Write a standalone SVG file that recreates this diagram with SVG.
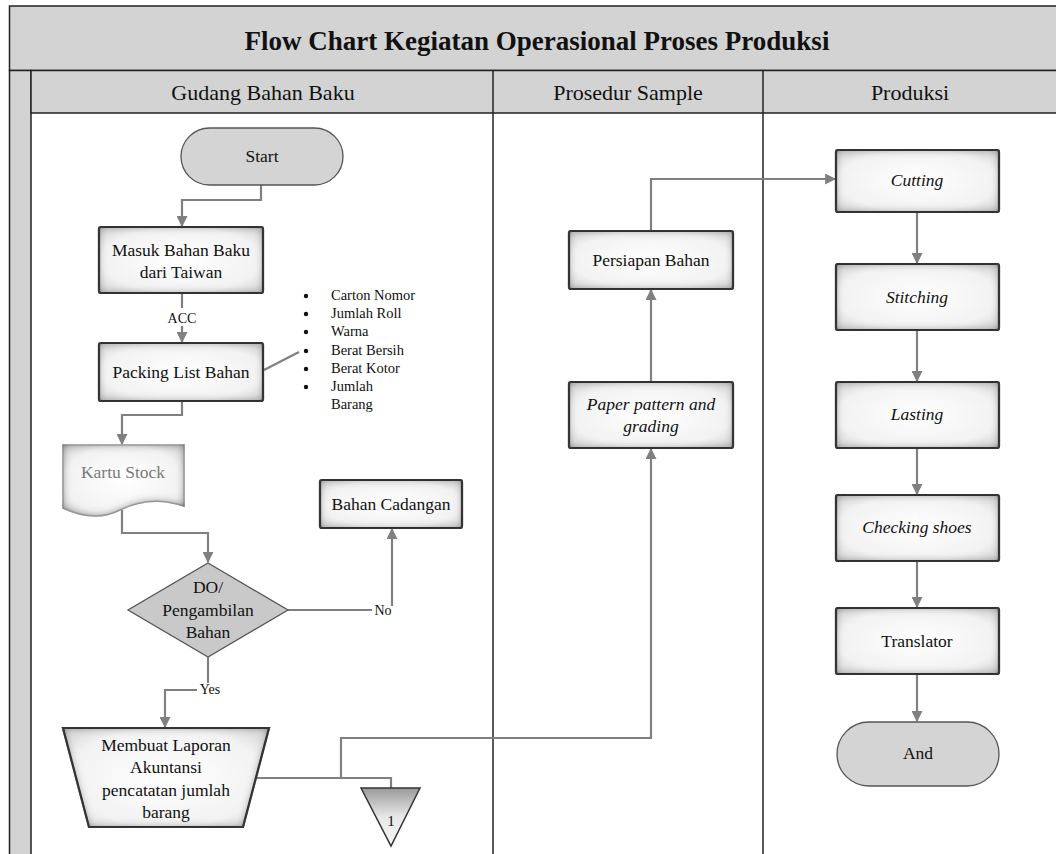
<svg xmlns="http://www.w3.org/2000/svg" width="1056" height="854" viewBox="0 0 1056 854" font-family="Liberation Serif, Times New Roman, DejaVu Serif, serif">
<style>
  .t{fill:#111;text-anchor:middle;}
  .n{font-size:17.5px;}
  .i{font-style:italic;}
  .hd{font-size:22px;}
  .b{font-size:14.5px;text-anchor:start;}
  .lbl{font-size:14px;}
  .box{fill:url(#boxg);stroke:#2b2b2b;stroke-width:2.2;filter:url(#inset);}
  .term{fill:#d4d4d4;stroke:#555;stroke-width:1.3;}
  .c{fill:none;stroke:#808080;stroke-width:2.2;}
  .frame{stroke:#222;stroke-width:1.5;}
</style>
<defs>
  <radialGradient id="boxg" cx="50%" cy="50%" r="70%">
    <stop offset="0" stop-color="#ffffff"/>
    <stop offset="0.7" stop-color="#f2f2f2"/>
    <stop offset="1" stop-color="#cfcfcf"/>
  </radialGradient>
  <linearGradient id="trig" x1="0" y1="0" x2="0" y2="1">
    <stop offset="0" stop-color="#9a9a9a"/>
    <stop offset="0.5" stop-color="#e8e8e8"/>
    <stop offset="1" stop-color="#f5f5f5"/>
  </linearGradient>
  <filter id="inset" x="-10%" y="-10%" width="120%" height="120%">
    <feFlood flood-color="#404040" result="f"/>
    <feComposite in="f" in2="SourceAlpha" operator="out" result="o"/>
    <feGaussianBlur in="o" stdDeviation="4" result="b"/>
    <feComposite in="b" in2="SourceAlpha" operator="in" result="s"/>
    <feMerge><feMergeNode in="SourceGraphic"/><feMergeNode in="s"/></feMerge>
  </filter>
  <marker id="ah" viewBox="0 0 10 10" refX="9" refY="5" markerWidth="5" markerHeight="5" orient="auto" markerUnits="strokeWidth">
    <path d="M0,0 L10,5 L0,10 z" fill="#808080"/>
  </marker>
</defs>

<g id="frame">
  <rect x="9.5" y="6" width="1050" height="64.5" fill="#d3d3d3" class="frame"/>
  <rect x="9.5" y="70.5" width="21.5" height="790" fill="#d3d3d3" class="frame"/>
  <rect x="31" y="70.5" width="1030" height="42.5" fill="#d3d3d3" class="frame"/>
  <line x1="493" y1="70.5" x2="493" y2="854" class="frame"/>
  <line x1="763" y1="70.5" x2="763" y2="854" class="frame"/>
  <text x="537" y="50" class="t" font-size="27" font-weight="bold">Flow Chart Kegiatan Operasional Proses Produksi</text>
  <text x="263" y="100" class="t hd">Gudang Bahan Baku</text>
  <text x="628" y="100" class="t hd">Prosedur Sample</text>
  <text x="910" y="100" class="t hd">Produksi</text>
</g>

<g id="connectors">
  <path class="c" d="M261,185 V200 H182 V226" marker-end="url(#ah)"/>
  <path class="c" d="M182,293 V308"/>
  <path class="c" d="M182,326 V342" marker-end="url(#ah)"/>
  <path class="c" d="M264,370 L299,352"/>
  <path class="c" d="M182,401 V415 H122 V444" marker-end="url(#ah)"/>
  <path class="c" d="M122,510 V533 H208 V562" marker-end="url(#ah)"/>
  <path class="c" d="M288,610 H372"/>
  <path class="c" d="M392,606 V529" marker-end="url(#ah)"/>
  <path class="c" d="M208,657 V683"/>
  <path class="c" d="M197,690 H165 V727" marker-end="url(#ah)"/>
  <path class="c" d="M256,778 H391 V806" marker-end="url(#ah)"/>
  <path class="c" d="M341,778 V738 H651 V449" marker-end="url(#ah)"/>
  <path class="c" d="M651,382 V290" marker-end="url(#ah)"/>
  <path class="c" d="M651,231 V179 H835" marker-end="url(#ah)"/>
  <path class="c" d="M917,212 V263" marker-end="url(#ah)"/>
  <path class="c" d="M917,330 V381" marker-end="url(#ah)"/>
  <path class="c" d="M917,448 V494" marker-end="url(#ah)"/>
  <path class="c" d="M917,561 V607" marker-end="url(#ah)"/>
  <path class="c" d="M917,674 V721" marker-end="url(#ah)"/>
  <text x="182" y="323" class="t lbl">ACC</text>
  <text x="383" y="615" class="t lbl">No</text>
  <text x="210" y="694" class="t lbl">Yes</text>
</g>

<g id="start">
  <rect x="181" y="128" width="162" height="57" rx="28.5" class="term"/>
  <text x="262" y="162" class="t n">Start</text>
</g>
<g id="masuk">
  <rect x="99" y="227" width="164" height="66" rx="2" class="box"/>
  <text x="181" y="256" class="t n">Masuk Bahan Baku</text>
  <text x="181" y="278" class="t n">dari Taiwan</text>
</g>
<g id="packing">
  <rect x="99" y="343" width="164" height="58" rx="2" class="box"/>
  <text x="181" y="378" class="t n">Packing List Bahan</text>
</g>
<g id="bullets">
  <g fill="#111">
    <circle cx="306" cy="296" r="2.2"/><circle cx="306" cy="314" r="2.2"/><circle cx="306" cy="332" r="2.2"/>
    <circle cx="306" cy="351" r="2.2"/><circle cx="306" cy="369" r="2.2"/><circle cx="306" cy="387" r="2.2"/>
  </g>
  <text x="331" y="300" class="t b">Carton Nomor</text>
  <text x="331" y="318" class="t b">Jumlah Roll</text>
  <text x="331" y="336" class="t b">Warna</text>
  <text x="331" y="355" class="t b">Berat Bersih</text>
  <text x="331" y="373" class="t b">Berat Kotor</text>
  <text x="331" y="391" class="t b">Jumlah</text>
  <text x="331" y="409" class="t b">Barang</text>
</g>
<g id="kartu">
  <path d="M63,445 H184 V506 C160,498 140,500 120,510 C100,520 80,516 63,508 Z" fill="url(#boxg)" stroke="#bdbdbd" stroke-width="1.5" filter="url(#inset)"/>
  <text x="123" y="478" class="t n" style="fill:#7a7a7a">Kartu Stock</text>
</g>
<g id="decision">
  <path d="M208,563 L288,610 L208,657 L128,610 Z" fill="#c9c9c9" stroke="#555" stroke-width="1.3"/>
  <text x="208" y="593" class="t n">DO/</text>
  <text x="208" y="616" class="t n">Pengambilan</text>
  <text x="208" y="638" class="t n">Bahan</text>
</g>
<g id="cadangan">
  <rect x="320" y="480" width="142" height="48" rx="2" class="box"/>
  <text x="391" y="510" class="t n">Bahan Cadangan</text>
</g>
<g id="laporan">
  <path d="M63,728 H269 L243,827 H89 Z" class="box"/>
  <text x="166" y="751" class="t n">Membuat Laporan</text>
  <text x="166" y="773" class="t n">Akuntansi</text>
  <text x="166" y="796" class="t n">pencatatan jumlah</text>
  <text x="166" y="818" class="t n">barang</text>
</g>
<g id="offpage">
  <path d="M361,788 H420 L391,846 Z" fill="url(#trig)" stroke="#333" stroke-width="1.5"/>
  <text x="391" y="826" class="t" font-size="15">1</text>
</g>
<g id="paper">
  <rect x="569" y="382" width="164" height="66" rx="2" class="box"/>
  <text x="651" y="410" class="t n i">Paper pattern and</text>
  <text x="651" y="432" class="t n i">grading</text>
</g>
<g id="persiapan">
  <rect x="569" y="231" width="164" height="58" rx="2" class="box"/>
  <text x="651" y="266" class="t n">Persiapan Bahan</text>
</g>
<g id="cutting">
  <rect x="836" y="150" width="163" height="62" rx="2" class="box"/>
  <text x="917" y="186" class="t n i">Cutting</text>
</g>
<g id="stitching">
  <rect x="836" y="264" width="163" height="66" rx="2" class="box"/>
  <text x="917" y="303" class="t n i">Stitching</text>
</g>
<g id="lasting">
  <rect x="836" y="382" width="163" height="66" rx="2" class="box"/>
  <text x="917" y="420" class="t n i">Lasting</text>
</g>
<g id="checking">
  <rect x="836" y="495" width="163" height="66" rx="2" class="box"/>
  <text x="917" y="533" class="t n i">Checking shoes</text>
</g>
<g id="translator">
  <rect x="836" y="608" width="163" height="66" rx="2" class="box"/>
  <text x="917" y="647" class="t n">Translator</text>
</g>
<g id="and">
  <rect x="837" y="722" width="162" height="64" rx="32" class="term"/>
  <text x="918" y="759" class="t n">And</text>
</g>
</svg>
